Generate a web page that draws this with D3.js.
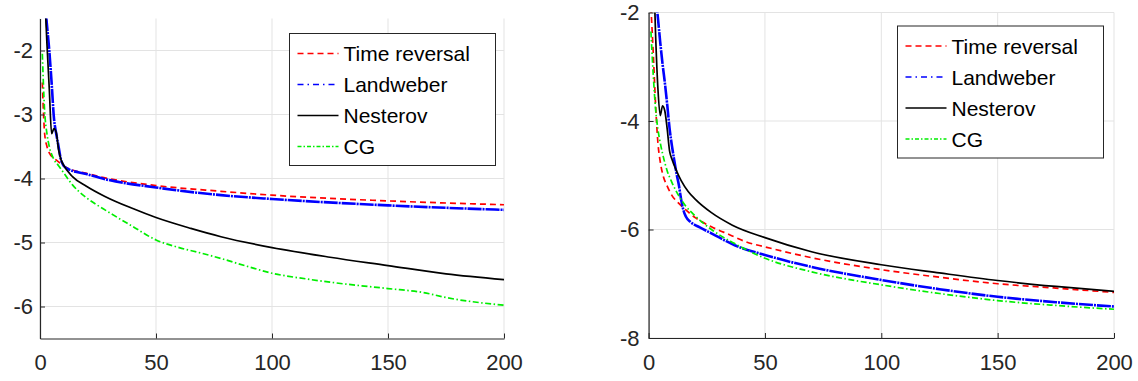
<!DOCTYPE html>
<html>
<head>
<meta charset="utf-8">
<script src="https://cdn.jsdelivr.net/npm/d3@7"></script>
<style>
  body { margin: 0; background: #fff; }
  text { font-family: "Liberation Sans", Arial, sans-serif; }
</style>
</head>
<body>
<svg id="chart"></svg>
<script>
// series labels
const seriesNames = ["Time reversal", "Landweber", "Nesterov", "CG"];
const xTicks = [0, 50, 100, 150, 200];
const leftYTicks = [-6, -5, -4, -3, -2];
const rightYTicks = [-8, -6, -4, -2];

// left panel: [iteration, value]
const leftTimeReversal = [[1,-2.5],[2,-3.3],[3,-3.5],[4,-3.6],[6,-3.68],[8,-3.74],[10,-3.8],[12,-3.84],[20,-3.92],[28,-3.99],[50,-4.11],[78,-4.2],[100,-4.26],[150,-4.35],[200,-4.41]];
const leftLandweber = [[2,-1.2],[3,-1.6],[4,-2.0],[5,-2.5],[6,-3.05],[7,-3.3],[8,-3.5],[9,-3.7],[10,-3.79],[12,-3.85],[20,-3.93],[28,-4.01],[50,-4.14],[78,-4.26],[100,-4.32],[150,-4.42],[200,-4.49]];
const leftNesterov = [[2,-1.1],[3,-1.9],[4,-2.6],[5,-3.3],[6,-3.22],[7,-3.28],[8,-3.55],[9,-3.7],[10,-3.78],[14,-3.97],[20,-4.12],[28,-4.28],[40,-4.47],[50,-4.61],[65,-4.78],[78,-4.91],[100,-5.08],[125,-5.23],[150,-5.36],[175,-5.49],[200,-5.58]];
const leftCG = [[1,-2.05],[2,-2.95],[3,-3.3],[4,-3.5],[6,-3.7],[8,-3.8],[10,-3.9],[14,-4.1],[20,-4.3],[28,-4.49],[40,-4.75],[50,-4.96],[60,-5.08],[70,-5.17],[78,-5.25],[90,-5.38],[100,-5.48],[115,-5.57],[125,-5.62],[150,-5.72],[165,-5.78],[175,-5.86],[200,-5.98]];

// right panel: [iteration, value]
const rightTimeReversal = [[1,-1.9],[2,-2.75],[3,-3.7],[4,-4.4],[5,-4.75],[6,-4.97],[8,-5.2],[10,-5.37],[13,-5.52],[16,-5.64],[20,-5.78],[27,-5.95],[35,-6.1],[42,-6.23],[50,-6.32],[70,-6.52],[100,-6.74],[125,-6.88],[150,-7.0],[175,-7.08],[200,-7.16]];
const rightLandweber = [[3,-1.7],[4,-2.1],[5,-2.55],[6,-2.95],[7,-3.3],[8,-3.7],[9,-4.13],[10,-4.45],[11,-4.72],[12,-4.97],[13,-5.18],[14,-5.45],[15,-5.65],[16,-5.76],[18,-5.86],[22,-5.96],[27,-6.07],[37,-6.29],[50,-6.47],[70,-6.69],[100,-6.93],[125,-7.1],[150,-7.24],[175,-7.34],[200,-7.42]];
const rightNesterov = [[2,-1.0],[3,-2.4],[4,-3.4],[5,-3.9],[6,-3.72],[7,-3.82],[8,-4.15],[9,-4.55],[10,-4.7],[12,-4.92],[14,-5.1],[17,-5.3],[20,-5.44],[27,-5.69],[36,-5.92],[50,-6.15],[70,-6.41],[100,-6.65],[125,-6.8],[150,-6.94],[175,-7.05],[200,-7.14]];
const rightCG = [[1,-2.35],[2,-3.15],[3,-3.78],[4,-4.15],[5,-4.4],[6,-4.6],[8,-4.92],[10,-5.13],[13,-5.38],[16,-5.57],[20,-5.75],[27,-6.0],[37,-6.26],[50,-6.53],[70,-6.78],[100,-7.02],[125,-7.18],[150,-7.31],[175,-7.4],[200,-7.47]];

const styles = [
  { color: "#ff0000", width: 1.7, dash: "6,4" },
  { color: "#0000ff", width: 2.6, dash: "14,1,2,1" },
  { color: "#000000", width: 1.7, dash: null },
  { color: "#00ee00", width: 1.7, dash: "6,2.5,1.5,2.5" }
];
const legendDash = ["6,4", "6,4,1.5,4", null, "4,2,1.5,2"];

const svg = d3.select("#chart").attr("width", 1138).attr("height", 381);

function drawPanel(id, opts) {
  const x = d3.scaleLinear().domain([0, 200]).range(opts.xRange);
  const y = d3.scaleLinear().domain(opts.yDomain).range(opts.yRange);
  const g = svg.append("g");
  const [x0, x1] = opts.xRange;
  const [yb, yt] = opts.yRange;

  // grid
  g.selectAll(".gx").data(xTicks).enter().append("line")
    .attr("x1", d => x(d)).attr("x2", d => x(d))
    .attr("y1", yb).attr("y2", yt)
    .attr("stroke", "#e3e3e3").attr("stroke-width", 1);
  g.selectAll(".gy").data(opts.yTicks).enter().append("line")
    .attr("x1", x0).attr("x2", x1)
    .attr("y1", d => y(d)).attr("y2", d => y(d))
    .attr("stroke", "#e3e3e3").attr("stroke-width", 1);

  // clip
  svg.append("clipPath").attr("id", id)
    .append("rect").attr("x", x0).attr("y", yt)
    .attr("width", x1 - x0).attr("height", yb - yt);

  const line = d3.line()
    .x(d => x(d[0])).y(d => y(d[1]))
    .curve(d3.curveMonotoneX);

  const lines = g.append("g").attr("clip-path", `url(#${id})`);
  opts.series.forEach((s, i) => {
    const st = styles[i];
    lines.append("path").datum(s)
      .attr("d", line)
      .attr("fill", "none")
      .attr("stroke", st.color)
      .attr("stroke-width", st.width)
      .attr("stroke-dasharray", st.dash);
  });

  // axes
  const fmt = d => String(d);
  const xAxis = d3.axisBottom(x).tickValues(xTicks).tickFormat(fmt)
    .tickSize(-5).tickPadding(16).tickSizeOuter(0);
  const gx = g.append("g").attr("transform", `translate(0,${yb})`).call(xAxis);
  const yAxis = d3.axisLeft(y).tickValues(opts.yTicks).tickFormat(fmt)
    .tickSize(-5).tickPadding(opts.yPad).tickSizeOuter(0);
  const gy = g.append("g").attr("transform", `translate(${x0},0)`).call(yAxis);
  [gx, gy].forEach(a => {
    a.select(".domain").attr("stroke", "#262626").attr("stroke-width", 1.2);
    a.selectAll(".tick line").attr("stroke", "#262626");
    a.selectAll(".tick text")
      .attr("fill", "#262626")
      .style("font-size", "22px")
      .style("font-family", "'Liberation Sans', Arial, sans-serif");
  });

  // legend
  const lg = g.append("g").attr("transform", `translate(${opts.legend[0]},${opts.legend[1]})`);
  lg.append("rect").attr("width", 206).attr("height", 132)
    .attr("fill", "#fff").attr("stroke", "#262626").attr("stroke-width", 1);
  seriesNames.forEach((name, i) => {
    const cy = 20 + i * 31;
    lg.append("line")
      .attr("x1", 8).attr("x2", 49).attr("y1", cy).attr("y2", cy)
      .attr("stroke", styles[i].color)
      .attr("stroke-width", 1.6)
      .attr("stroke-dasharray", legendDash[i]);
    lg.append("text")
      .attr("x", 54).attr("y", cy)
      .attr("dy", "0.36em")
      .attr("font-size", "21px")
      .attr("fill", "#000")
      .text(name);
  });
}

drawPanel("clipL", {
  xRange: [40, 504], yDomain: [-6.5, -1.5], yRange: [338.5, 18.5],
  yTicks: leftYTicks, yPad: 7, legend: [289.5, 33.5],
  series: [leftTimeReversal, leftLandweber, leftNesterov, leftCG]
});
drawPanel("clipR", {
  xRange: [648.6, 1114], yDomain: [-8, -2], yRange: [338, 12.5],
  yTicks: rightYTicks, yPad: 9, legend: [897.5, 26],
  series: [rightTimeReversal, rightLandweber, rightNesterov, rightCG]
});
</script>
</body>
</html>
